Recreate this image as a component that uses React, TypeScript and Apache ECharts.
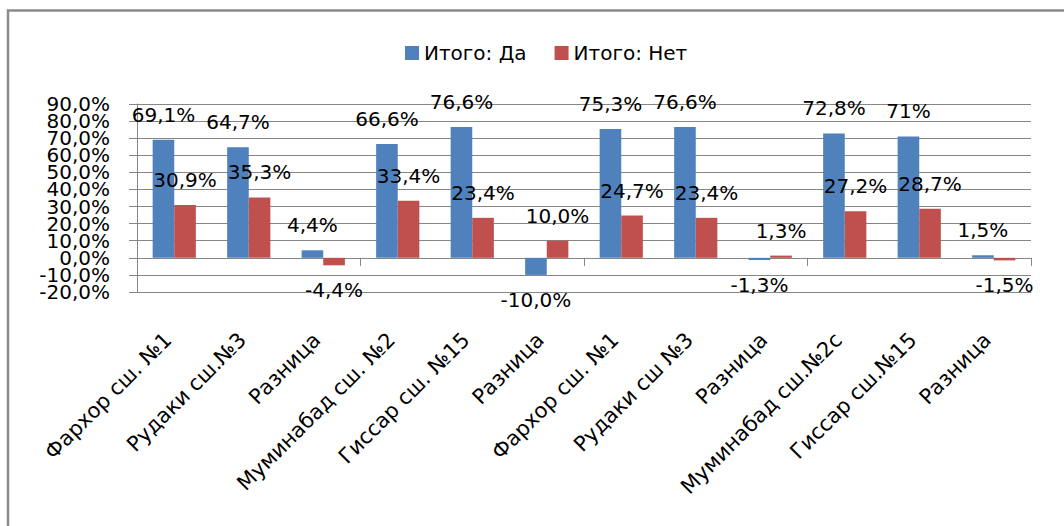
import React, { useEffect, useRef } from 'react';
import * as echarts from 'echarts';

const categories = [
  'Фархор сш. №1',
  'Рудаки сш.№3',
  'Разница',
  'Муминабад сш. №2',
  'Гиссар сш. №15',
  'Разница',
  'Фархор сш. №1',
  'Рудаки сш №3',
  'Разница',
  'Муминабад сш.№2с',
  'Гиссар сш.№15',
  'Разница',
];
const seriesNames = ['Итого: Да', 'Итого: Нет'];
const yesValues = [69.1, 64.7, 4.4, 66.6, 76.6, -10.0, 75.3, 76.6, -1.3, 72.8, 71, 1.5];
const noValues = [30.9, 35.3, -4.4, 33.4, 23.4, 10.0, 24.7, 23.4, 1.3, 27.2, 28.7, -1.5];
const yesLabels = ['69,1%', '64,7%', '4,4%', '66,6%', '76,6%', '-10,0%', '75,3%', '76,6%', '-1,3%', '72,8%', '71%', '1,5%'];
const noLabels = ['30,9%', '35,3%', '-4,4%', '33,4%', '23,4%', '10,0%', '24,7%', '23,4%', '1,3%', '27,2%', '28,7%', '-1,5%'];
const yTickLabels = ['-20,0%', '-10,0%', '0,0%', '10,0%', '20,0%', '30,0%', '40,0%', '50,0%', '60,0%', '70,0%', '80,0%', '90,0%'];
const yMin = -20;
const yMax = 90;
const yStep = 10;

const FONT = 'DejaVu Sans';
const GRID_COLOR = '#868686';

function makeSeries(name: string, values: number[], labels: string[], color: string) {
  return {
    name,
    type: 'bar',
    xAxisIndex: 0,
    yAxisIndex: 0,
    barGap: '0%',
    barCategoryGap: '42%',
    itemStyle: { color },
    data: values.map((v) => ({
      value: v,
      label: { position: v < 0 ? 'bottom' : 'top' },
    })),
    label: {
      show: true,
      distance: 15,
      fontFamily: FONT,
      fontSize: 20,
      color: '#000',
      formatter: (p: any) => labels[p.dataIndex],
    },
  };
}

export default function App() {
  const ref = useRef<HTMLDivElement>(null);
  useEffect(() => {
    if (!ref.current) return;
    const chart = echarts.init(ref.current, undefined, { renderer: 'svg' });
    chart.setOption({
      animation: false,
      backgroundColor: '#fff',
      textStyle: { fontFamily: FONT },
      graphic: [
        {
          type: 'polyline',
          shape: { points: [[8, 526], [8, 10.5], [1064, 10.5]] },
          style: { stroke: '#8a8a8a', lineWidth: 2.5, fill: 'none' },
          silent: true,
        },
      ],
      legend: {
        data: seriesNames,
        left: 400,
        top: 38,
        icon: 'rect',
        itemWidth: 14,
        itemHeight: 14,
        itemGap: 28,
        textStyle: { fontFamily: FONT, fontSize: 20, color: '#000' },
      },
      grid: { left: 137, right: 33, top: 104, height: 188, containLabel: false },
      xAxis: [
        {
          type: 'category',
          data: categories,
          position: 'bottom',
          axisLine: { onZero: false, show: true, lineStyle: { color: GRID_COLOR } },
          axisTick: { show: false },
          axisLabel: {
            interval: 0,
            rotate: 45,
            margin: 38,
            padding: [0, 9, 0, 0],
            fontFamily: FONT,
            fontSize: 21,
            color: '#000',
          },
        },
        {
          type: 'category',
          data: categories,
          position: 'bottom',
          axisLine: { onZero: true, show: true, lineStyle: { color: GRID_COLOR } },
          axisTick: { show: true, length: 8, lineStyle: { color: GRID_COLOR } },
          axisLabel: { show: false },
        },
      ],
      yAxis: [
        {
          type: 'value',
          min: yMin,
          max: yMax,
          interval: yStep,
          position: 'left',
          axisLine: { show: true, lineStyle: { color: GRID_COLOR } },
          axisTick: { show: true, length: 8, lineStyle: { color: GRID_COLOR } },
          splitLine: { show: true, lineStyle: { color: GRID_COLOR } },
          axisLabel: { show: false },
        },
        {
          type: 'category',
          data: yTickLabels,
          position: 'left',
          boundaryGap: false,
          axisLine: { show: false },
          axisTick: { show: false },
          splitLine: { show: false },
          axisLabel: {
            interval: 0,
            margin: 27,
            fontFamily: FONT,
            fontSize: 20,
            color: '#000',
          },
        },
      ],
      series: [
        makeSeries(seriesNames[0], yesValues, yesLabels, '#4F81BD'),
        makeSeries(seriesNames[1], noValues, noLabels, '#C0504D'),
      ],
    });
    return () => chart.dispose();
  }, []);
  return (
    <div
      ref={ref}
      style={{ position: 'fixed', left: 0, top: 0, width: 1064, height: 526, background: '#fff' }}
    />
  );
}
